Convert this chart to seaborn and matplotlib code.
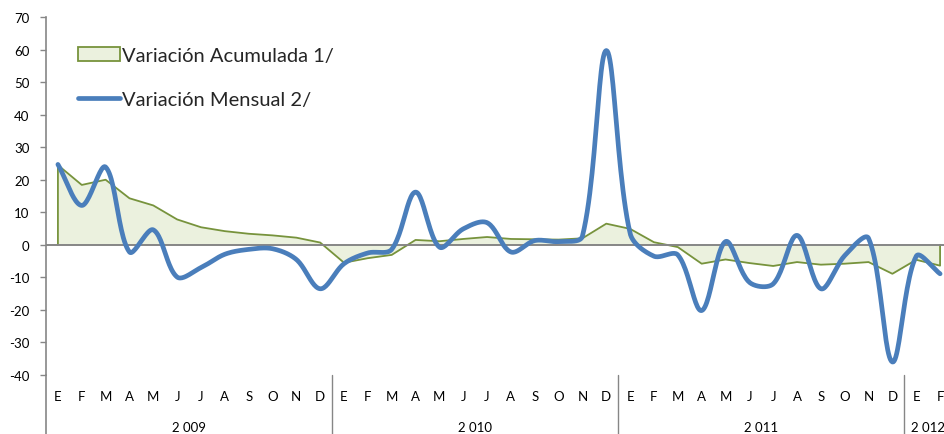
import numpy as np
import pandas as pd
import matplotlib
matplotlib.use("Agg")
import matplotlib.pyplot as plt
import matplotlib.transforms as mtransforms
from matplotlib.patches import Patch
from matplotlib.lines import Line2D
import seaborn as sns

# ---------------- data ----------------
months = ["E", "F", "M", "A", "M", "J", "J", "A", "S", "O", "N", "D"]
month_labels = months * 3 + ["E", "F"]
years = ["2 009", "2 010", "2 011", "2 012"]
year_sizes = [12, 12, 12, 2]

acumulada = [24.5, 18.4, 20.0, 14.3, 12.1, 7.8, 5.4, 4.2, 3.4, 2.9, 2.2, 0.7,
             -5.5, -4.1, -3.1, 1.5, 1.1, 1.8, 2.4, 1.8, 1.7, 1.6, 2.0, 6.5,
             4.9, 0.8, -0.7, -5.8, -4.5, -5.6, -6.5, -5.3, -6.1, -5.8, -5.3, -8.9,
             -4.6, -6.4]
mensual = [24.7, 12.1, 23.9, -2.2, 4.6, -9.9, -7.0, -2.9, -1.4, -1.2, -4.5, -13.5,
           -5.8, -2.5, -1.4, 16.2, -0.7, 4.9, 6.8, -2.2, 1.3, 1.0, 2.7, 59.7,
           3.5, -3.5, -3.1, -20.2, 1.0, -11.5, -12.0, 2.9, -13.5, -3.3, 2.0, -36.0,
           -3.5, -8.9]

label_acum = "Variación Acumulada 1/"
label_mens = "Variación Mensual 2/"

GREEN = "#77933C"
GREEN_FILL = "#EBF1DE"
BLUE = "#4A7EBB"
GRAY = "#868686"

df = pd.DataFrame({"idx": np.arange(len(mensual)), "acum": acumulada, "mens": mensual})

# pixel scale used only for the curve smoothing (spreadsheet-style smoothing)
SX, SY = 23.84, 3.255


def smooth_curve(x, y, n=24):
    P = np.column_stack([np.asarray(x, float) * SX, np.asarray(y, float) * SY])
    m = len(P)
    xs, ys = [], []
    t = np.linspace(0, 1, n, endpoint=False)[:, None]
    for i in range(m - 1):
        p0 = P[i - 1] if i > 0 else P[i]
        p1, p2 = P[i], P[i + 1]
        p3 = P[i + 2] if i + 2 < m else P[i + 1]
        d01 = np.linalg.norm(p1 - p0)
        d12 = np.linalg.norm(p2 - p1)
        d23 = np.linalg.norm(p3 - p2)
        w1 = d12 / (d01 + d12) if d01 + d12 > 0 else 0.5
        w2 = d12 / (d12 + d23) if d12 + d23 > 0 else 0.5
        c1 = p1 + (p2 - p0) * w1 / 3.0
        c2 = p2 - (p3 - p1) * w2 / 3.0
        b = ((1 - t) ** 3 * p1 + 3 * (1 - t) ** 2 * t * c1
             + 3 * (1 - t) * t ** 2 * c2 + t ** 3 * p2)
        xs.extend(b[:, 0])
        ys.extend(b[:, 1])
    xs.append(P[-1, 0])
    ys.append(P[-1, 1])
    return np.array(xs) / SX, np.array(ys) / SY


sns.set_theme(style="white")
plt.rcParams["font.family"] = ["Lato", "DejaVu Sans"]

fig = plt.figure(figsize=(9.45, 4.35), dpi=100)
ax = fig.add_axes([46 / 945, 1 - 376 / 435, 906 / 945, 358 / 435])

# area
ax.fill_between(df["idx"], 0, df["acum"], color=GREEN_FILL, lw=0, zorder=1)
n = len(acumulada)
edge_x = np.concatenate([[0], df["idx"], [n - 1]])
edge_y = np.concatenate([[0], df["acum"], [0]])
ax.plot(edge_x, edge_y, color=GREEN, lw=1.3, zorder=2)

# zero line
ax.axhline(0, color=GRAY, lw=1.4, zorder=2.5)

# smooth monthly line
sx, sy = smooth_curve(df["idx"], df["mens"])
smooth = pd.DataFrame({"x": sx, "y": sy})
sns.lineplot(data=smooth, x="x", y="y", ax=ax, color=BLUE, lw=3.4,
             sort=False, estimator=None, zorder=3)

ax.set_xlim(-0.5, n - 0.5)
ax.set_ylim(-40, 70)
ax.set_yticks(np.arange(-40, 71, 10))
ax.set_yticklabels([str(v) for v in range(-40, 71, 10)], fontsize=9.5, color="#000000")
ax.tick_params(axis="y", length=4, width=1, color=GRAY, pad=8, left=True)
ax.set_xticks([])
ax.set_xlabel("")
ax.set_ylabel("")
for s in ["top", "right", "bottom"]:
    ax.spines[s].set_visible(False)
ax.spines["left"].set_color(GRAY)
ax.spines["left"].set_linewidth(1.2)

# category labels
trans = mtransforms.blended_transform_factory(ax.transData, ax.transAxes)
ax_h = 358.0
for i, lab in enumerate(month_labels):
    ax.text(i, -21 / ax_h, lab, transform=trans, ha="center", va="center",
            fontsize=9.5, color="#000000")
start = -0.5
for yr, size in zip(years, year_sizes):
    ax.text(start + size / 2, -52 / ax_h, yr, transform=trans, ha="center",
            va="center", fontsize=9.5, color="#000000", clip_on=False)
    start += size
    if start < n - 0.5:
        ax.plot([start, start], [0, -60 / ax_h], transform=trans, color=GRAY,
                lw=1.0, clip_on=False)
ax.plot([-0.5, -0.5], [0, -60 / ax_h], transform=trans, color=GRAY, lw=1.2,
        clip_on=False)

handles = [Patch(facecolor=GREEN_FILL, edgecolor=GREEN, lw=1.3),
           Line2D([0], [0], color=BLUE, lw=3.4)]
ax.legend(handles, [label_acum, label_mens], loc="upper left",
          bbox_to_anchor=(32 / 906, 1 - 29.5 / 358), frameon=False,
          fontsize=14.5, handlelength=2.1, handleheight=0.7, handletextpad=0.1,
          labelspacing=1.38, borderpad=0, borderaxespad=0)

fig.savefig("out.png", dpi=100)
